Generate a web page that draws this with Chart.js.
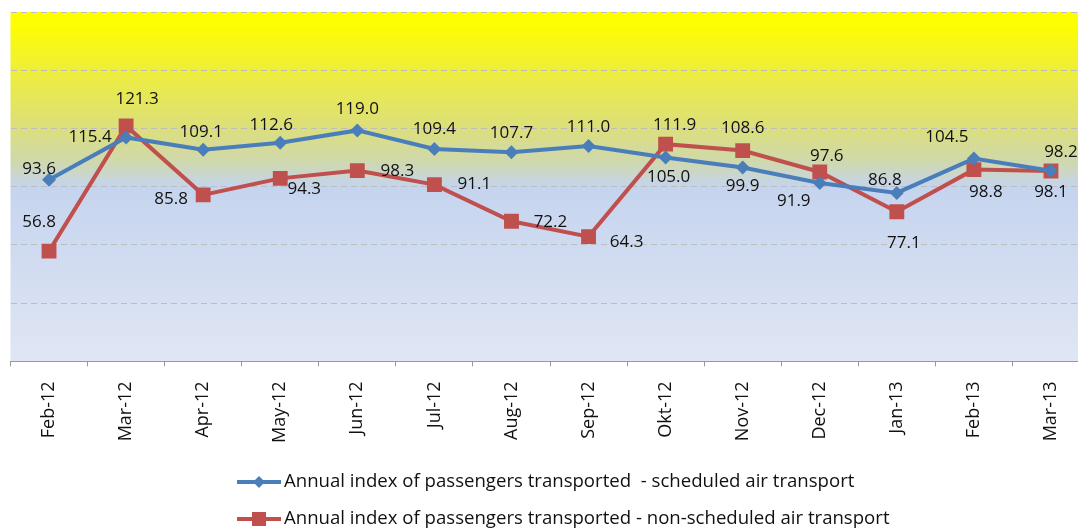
<!DOCTYPE html>
<html>
<head>
<meta charset="utf-8">
<script src="https://cdn.jsdelivr.net/npm/chart.js@4"></script>
<style>
  html, body { margin: 0; padding: 0; background: #fff; overflow: hidden; }
  #wrap { width: 1078px; height: 529px; overflow: hidden; }
</style>
</head>
<body>
<div id="wrap"><canvas id="myChart" width="1100" height="529"></canvas></div>
<script>
// data
const months = ['Feb-12', 'Mar-12', 'Apr-12', 'May-12', 'Jun-12', 'Jul-12', 'Aug-12', 'Sep-12', 'Okt-12', 'Nov-12', 'Dec-12', 'Jan-13', 'Feb-13', 'Mar-13'];
const scheduled = [93.6, 115.4, 109.1, 112.6, 119.0, 109.4, 107.7, 111.0, 105.0, 99.9, 91.9, 86.8, 104.5, 98.2];
const nonScheduled = [56.8, 121.3, 85.8, 94.3, 98.3, 91.1, 72.2, 64.3, 111.9, 108.6, 97.6, 77.1, 98.8, 98.1];
const yTicks = [0, 30, 60, 90, 120, 150, 180];

// label placement (dx, dy from the point)
const blueLabelPos = [[-10,-11],[-36,0],[-2,-17],[-9,-18],[0,-21],[0,-20],[0,-19],[0,-19],[3,20],[0,19],[-26,18],[-12,-13],[-27,-21],[10,-19]];
const redLabelPos = [[-10,-29],[11,-27],[-32,4],[24,11],[40,1],[40,0],[39,1],[38,6],[9,-19],[0,-22],[7,-16],[7,31],[12,23],[0,21]];

const fontFam = '"Open Sans", Lato, sans-serif';
const labelFont = '17px ' + fontFam;

const bgPlugin = {
  id: 'bg',
  beforeDraw(chart) {
    const { ctx, chartArea: a } = chart;
    const g = ctx.createLinearGradient(0, a.top, 0, a.bottom);
    g.addColorStop(0, '#ffff00');
    g.addColorStop(0.05, '#fcfc06');
    g.addColorStop(0.17, '#eeee3c');
    g.addColorStop(0.33, '#dcdf7a');
    g.addColorStop(0.43, '#cfd8ae');
    g.addColorStop(0.5, '#c5d4ee');
    g.addColorStop(1, '#e0e6f4');
    ctx.save();
    ctx.fillStyle = g;
    ctx.fillRect(a.left, a.top, a.right - a.left, a.bottom - a.top);
    ctx.restore();
  }
};

const labelPlugin = {
  id: 'pointLabels',
  afterDatasetsDraw(chart) {
    const ctx = chart.ctx;
    const offs = [blueLabelPos, redLabelPos];
    ctx.save();
    ctx.font = labelFont;
    ctx.fillStyle = '#111';
    ctx.textAlign = 'center';
    ctx.textBaseline = 'middle';
    chart.data.datasets.forEach((ds, i) => {
      chart.getDatasetMeta(i).data.forEach((pt, j) => {
        ctx.fillText(ds.data[j].toFixed(1), pt.x + offs[i][j][0], pt.y + offs[i][j][1]);
      });
    });
    ctx.restore();
  }
};

const legendPlugin = {
  id: 'bottomLegend',
  afterDraw(chart) {
    const ctx = chart.ctx;
    const rows = [482, 519];
    ctx.save();
    chart.data.datasets.forEach((ds, i) => {
      const y = rows[i];
      ctx.strokeStyle = ds.borderColor;
      ctx.lineWidth = 4;
      ctx.beginPath();
      ctx.moveTo(237, y);
      ctx.lineTo(281, y);
      ctx.stroke();
      ctx.fillStyle = ds.borderColor;
      if (ds.pointStyle === 'rectRot') {
        ctx.beginPath();
        ctx.moveTo(259, y - 6); ctx.lineTo(265, y); ctx.lineTo(259, y + 6); ctx.lineTo(253, y);
        ctx.closePath(); ctx.fill();
      } else {
        ctx.fillRect(252, y - 7, 14, 14);
      }
      ctx.fillStyle = '#111';
      ctx.font = '18.6px ' + fontFam;
      ctx.textBaseline = 'middle';
      ctx.fillText(ds.label, 284, y);
    });
    ctx.restore();
  }
};

const ctx = document.getElementById('myChart');
new Chart(ctx, {
  type: 'line',
  data: {
    labels: months,
    datasets: [
      {
        label: 'Annual index of passengers transported  - scheduled air transport',
        data: scheduled,
        borderColor: '#4a7ebb',
        backgroundColor: '#4a7ebb',
        borderWidth: 4,
        pointStyle: 'rectRot',
        pointRadius: 7,
        pointBorderWidth: 0,
        tension: 0
      },
      {
        label: 'Annual index of passengers transported - non-scheduled air transport',
        data: nonScheduled,
        borderColor: '#c0504d',
        backgroundColor: '#c0504d',
        borderWidth: 4,
        pointStyle: 'rect',
        pointRadius: 10.5,
        pointBorderWidth: 0,
        tension: 0
      }
    ]
  },
  options: {
    responsive: false,
    animation: false,
    layout: { padding: { left: 7, top: 12, right: 0, bottom: 71 } },
    plugins: {
      legend: { display: false },
      tooltip: { enabled: false }
    },
    scales: {
      x: {
        offset: true,
        grid: { display: true, offset: true, drawOnChartArea: false, drawTicks: true, tickLength: 5, color: '#999' },
        border: { display: true, color: '#999', dash: [3, 2], width: 1 },
        ticks: {
          maxRotation: 90, minRotation: 90, padding: 15, color: '#111',
          font: { family: fontFam, size: 18 }
        }
      },
      y: {
        min: 0,
        max: 180,
        afterBuildTicks(axis) { axis.ticks = yTicks.map(v => ({ value: v })); },
        afterFit(axis) { axis.width = 0; },
        ticks: { display: false },
        grid: { color: '#bdbdbd', drawTicks: false, tickLength: 0 },
        border: { display: false, dash: [6, 4] }
      }
    }
  },
  plugins: [bgPlugin, labelPlugin, legendPlugin]
});
</script>
</body>
</html>
